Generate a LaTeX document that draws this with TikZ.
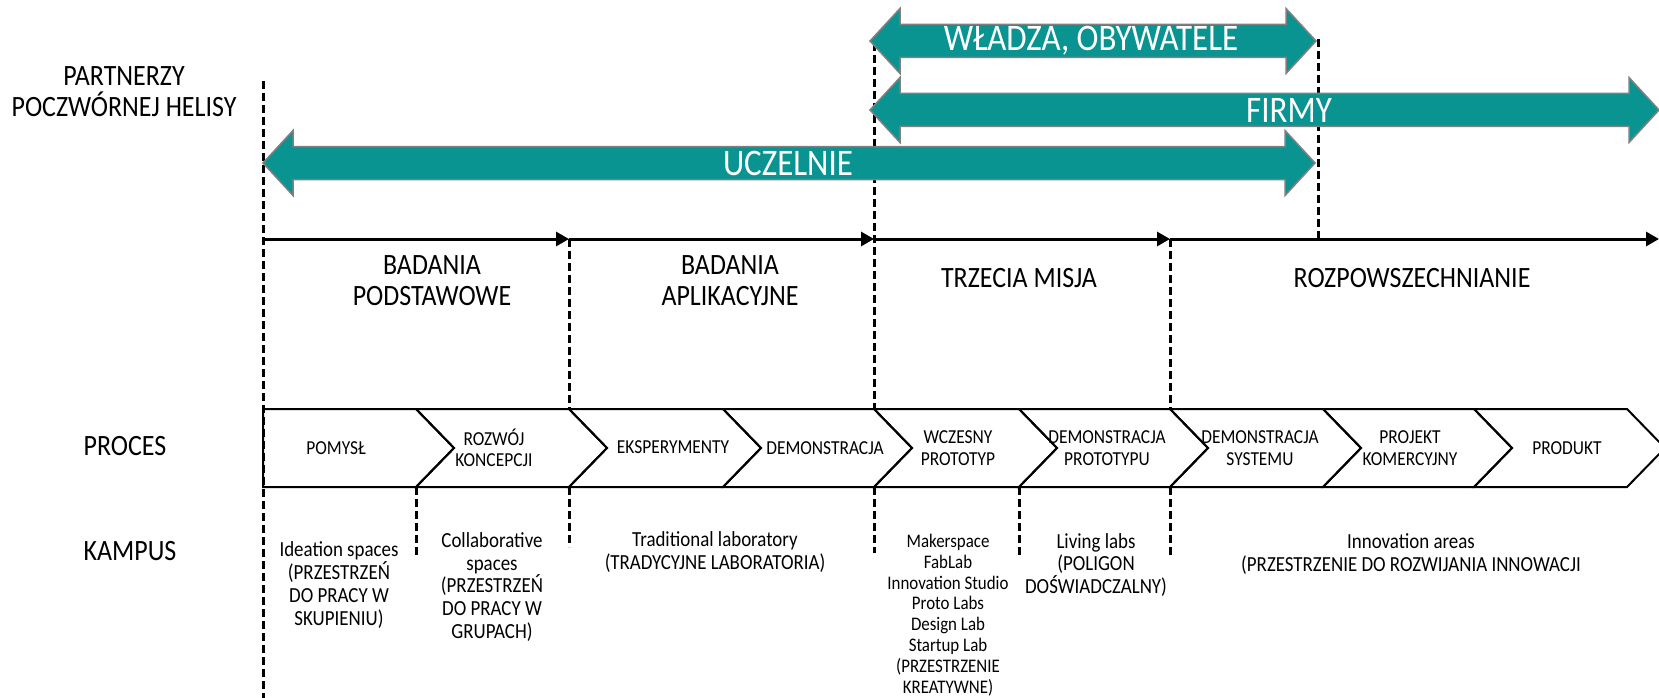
\documentclass[tikz,border=0pt]{standalone}
\usepackage{fontspec}
\setmainfont{Carlito}[FakeStretch=0.88]
\usetikzlibrary{arrows.meta}
\definecolor{helixfill}{RGB}{9,148,145}
\definecolor{helixedge}{RGB}{128,128,128}
\newcommand{\helixarrow}[3]{% #1 left tip x, #2 right tip x, #3 centre y
  \path[helix] (#1,#3) -- ({#1+30},{#3-32.5}) -- ({#1+30},{#3-16.5}) -- ({#2-30},{#3-16.5})
    -- ({#2-30},{#3-32.5}) -- (#2,#3) -- ({#2-30},{#3+32.5}) -- ({#2-30},{#3+16.5})
    -- ({#1+30},{#3+16.5}) -- ({#1+30},{#3+32.5}) -- cycle;}
\newcommand{\chevronbox}[2]{% #1 left corner x, #2 right corner x
  \draw[chev] (#1,409) -- (#2,409) -- ({#2+38},448) -- (#2,487) -- (#1,487) -- ({#1+38},448) -- cycle;}
\begin{document}
\begin{tikzpicture}[x=1pt,y=-1pt,
  helix/.style={fill=helixfill,draw=helixedge,line width=1.5pt,line join=miter},
  helixtext/.style={text=white,font=\fontsize{37.5}{40}\selectfont,inner sep=0pt},
  divider/.style={line width=3pt,dash pattern=on 8pt off 4pt},
  stagearrow/.style={line width=3pt,-{Triangle[length=13pt,width=14pt]}},
  chev/.style={draw=black,line width=2pt,line join=miter},
  label/.style={font=\fontsize{29.5}{31}\selectfont,align=center,inner sep=0pt},
  chevtext/.style={font=\fontsize{19.8}{21.5}\selectfont,align=center,inner sep=0pt},
  camptext/.style={font=\fontsize{21.5}{22.7}\selectfont,align=center,inner sep=0pt},
  camptextsmall/.style={font=\fontsize{19.2}{20.8}\selectfont,align=center,inner sep=0pt},
]
\useasboundingbox[fill=white] (0,0) rectangle (1659,698);

% dashed dividers
\coordinate (a0) at (263,81);   \coordinate (a1) at (263,698);
\coordinate (b0) at (569,239);  \coordinate (b1) at (569,409);
\coordinate (b2) at (569,487);  \coordinate (b3) at (569,547);
\coordinate (c0) at (874,43);   \coordinate (c1) at (874,409);
\coordinate (c2) at (874,487);  \coordinate (c3) at (874,553);
\coordinate (e0) at (1170,239); \coordinate (e1) at (1170,409);
\coordinate (e2) at (1170,487); \coordinate (e3) at (1170,555);
\coordinate (f0) at (1318,39);  \coordinate (f1) at (1318,239);
\coordinate (g0) at (416,487);  \coordinate (g1) at (416,555);
\coordinate (h0) at (1019,487); \coordinate (h1) at (1019,555);
\draw[divider] (a0) -- (a1);
\draw[divider] (b0) -- (b1);
\draw[divider] (b2) -- (b3);
\draw[divider] (c0) -- (c1);
\draw[divider] (c2) -- (c3);
\draw[divider] (e0) -- (e1);
\draw[divider] (e2) -- (e3);
\draw[divider] (f0) -- (f1);
\draw[divider] (g0) -- (g1);
\draw[divider] (h0) -- (h1);

% process chevrons
\draw[chev] (263,409) -- (416,409) -- (454,448) -- (416,487) -- (263,487) -- cycle;
\chevronbox{416}{569}
\chevronbox{569}{723}
\chevronbox{723}{874}
\chevronbox{874}{1019}
\chevronbox{1019}{1170}
\chevronbox{1170}{1323}
\chevronbox{1323}{1474}
\chevronbox{1474}{1627}

% stage timeline
\coordinate (t0) at (263,239);
\coordinate (t1) at (569,239);
\coordinate (t2) at (874,239);
\coordinate (t3) at (1170,239);
\coordinate (t4) at (1659,239);
\draw[stagearrow] (t0) -- (t1);
\draw[stagearrow] (t1) -- (t2);
\draw[stagearrow] (t2) -- (t3);
\draw[stagearrow] (t3) -- (t4);

% helix partner arrows
\helixarrow{870}{1316}{41}
\helixarrow{870}{1659}{110}
\helixarrow{263}{1315}{163}
\node[helixtext] (wladza) at (1091,41) {WŁADZA, OBYWATELE};
\node[helixtext] (firmy) at (1289,110) {FIRMY};
\node[helixtext] (uczelnie) at (788,163) {UCZELNIE};

% row labels
\node[label] (partnerzy) at (124,92) {PARTNERZY\\POCZWÓRNEJ HELISY};
\node[label] (proces) at (125,446) {PROCES};
\node[label] (kampus) at (130,551) {KAMPUS};

% stage labels
\node[label] (st1) at (432,281) {BADANIA\\PODSTAWOWE};
\node[label] (st2) at (730,281) {BADANIA\\APLIKACYJNE};
\node[label] (st3) at (1019,278) {TRZECIA MISJA};
\node[label] (st4) at (1412,278) {ROZPOWSZECHNIANIE};

% chevron labels
\node[chevtext] (p1) at (336,448) {POMYSŁ};
\node[chevtext] (p2) at (494,448) {ROZWÓJ\\KONCEPCJI};
\node[chevtext] (p3) at (673,447) {EKSPERYMENTY};
\node[chevtext] (p4) at (825,448) {DEMONSTRACJA};
\node[chevtext] (p5) at (958,448) {WCZESNY\\PROTOTYP};
\node[chevtext] (p6) at (1107,448) {DEMONSTRACJA\\PROTOTYPU};
\node[chevtext] (p7) at (1260,448) {DEMONSTRACJA\\SYSTEMU};
\node[chevtext] (p8) at (1410,448) {PROJEKT\\KOMERCYJNY};
\node[chevtext] (p9) at (1567,448) {PRODUKT};

% campus labels
\node[camptext] (k1) at (339,585) {Ideation spaces\\(PRZESTRZEŃ\\DO PRACY W\\SKUPIENIU)};
\node[camptext] (k2) at (492,587) {Collaborative\\spaces\\(PRZESTRZEŃ\\DO PRACY W\\GRUPACH)};
\node[camptext] (k3) at (715,552) {Traditional laboratory\\(TRADYCYJNE LABORATORIA)};
\node[camptextsmall] (k4) at (948,615) {Makerspace\\FabLab\\Innovation Studio\\Proto Labs\\Design Lab\\Startup Lab\\(PRZESTRZENIE\\KREATYWNE)};
\node[camptext] (k5) at (1096,565) {Living labs\\(POLIGON\\DOŚWIADCZALNY)};
\node[camptext] (k6) at (1411,554) {Innovation areas\\(PRZESTRZENIE DO ROZWIJANIA INNOWACJI};
\end{tikzpicture}
\end{document}
